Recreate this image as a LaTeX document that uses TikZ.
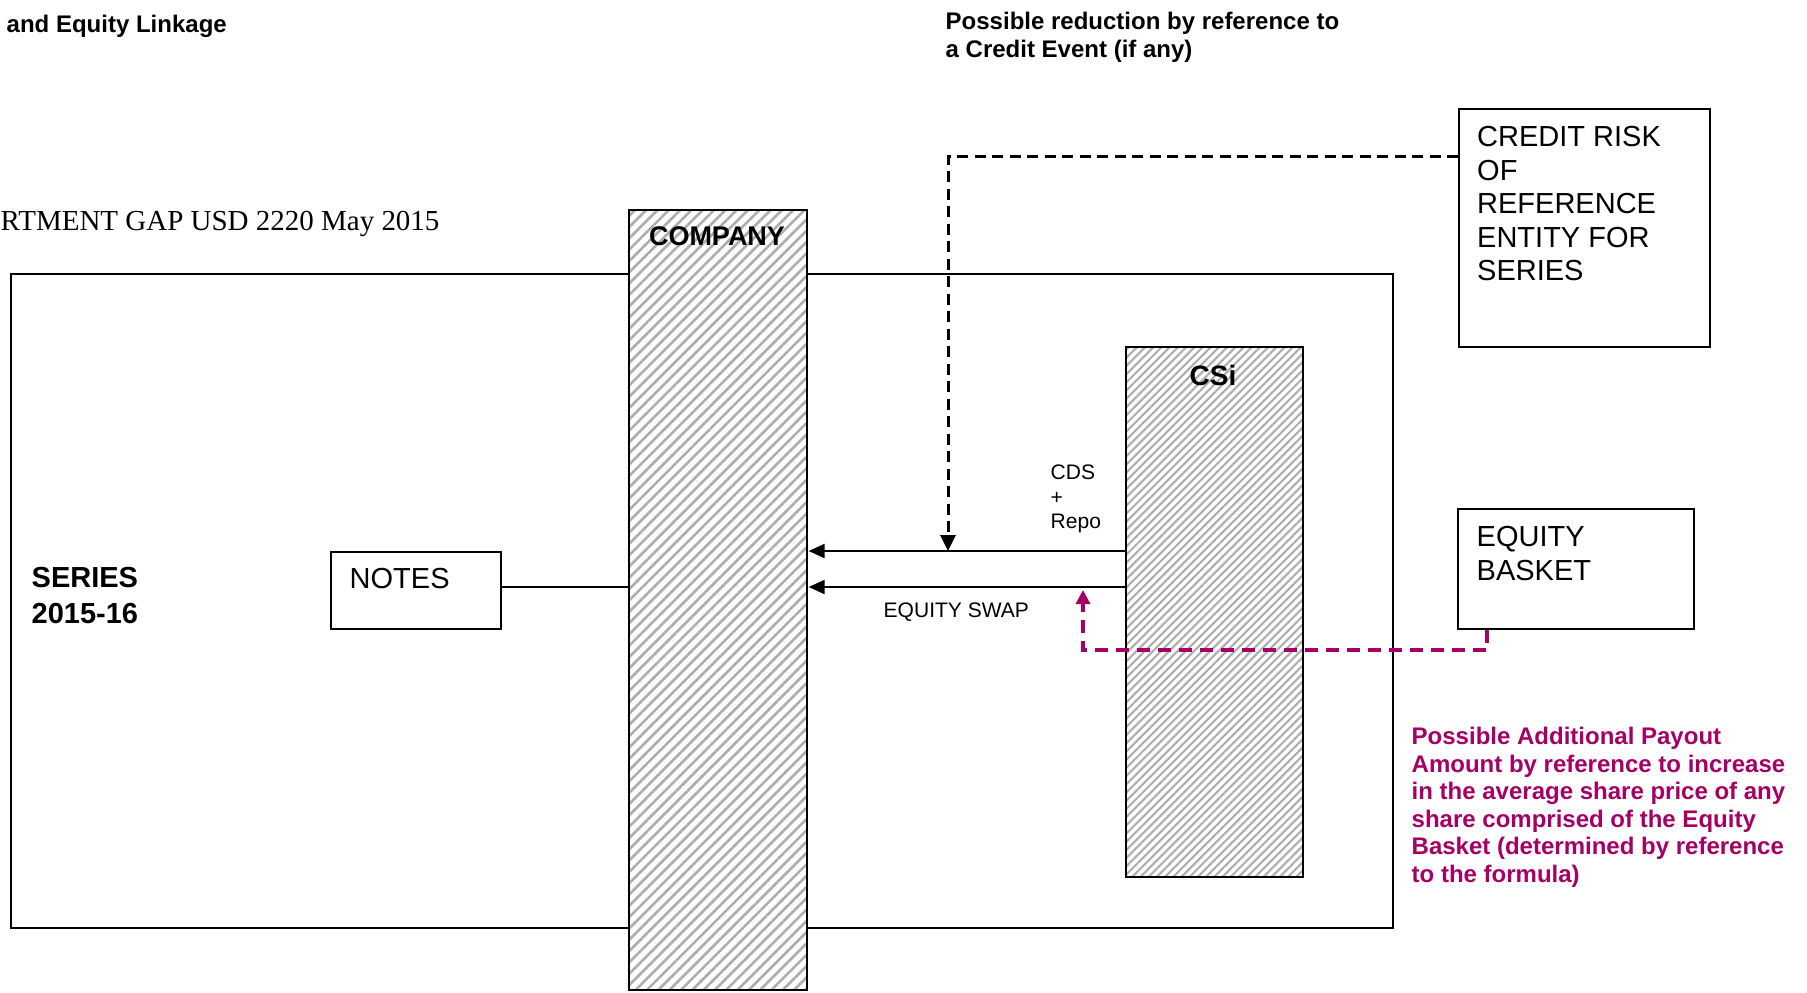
\documentclass[tikz,border=0pt]{standalone}
\usepackage{fontspec}
\setmainfont{Liberation Sans}
\newfontfamily\serifline{Liberation Serif}
\usetikzlibrary{arrows.meta,patterns.meta,positioning,calc}
\definecolor{payout}{RGB}{166,0,100}

\begin{document}
\begin{tikzpicture}[
    box/.style={rectangle, draw, line width=0.02cm, inner sep=0pt, anchor=north west},
    hatchwide/.style={box, preaction={fill=white}, pattern={Lines[angle=45,distance=0.08cm,line width=0.026cm]}, pattern color=black!32},
    hatchnarrow/.style={box, preaction={fill=white}, pattern={Lines[angle=45,distance=0.058cm,line width=0.021cm]}, pattern color=black!32},
    boxtext/.style={inner sep=0pt, anchor=north west, align=left, font=\fontsize{8.25}{9.53}\selectfont},
    heading/.style={inner sep=0pt, align=left, font=\fontsize{6.83}{7.97}\selectfont\bfseries},
    labeltext/.style={inner sep=0pt, align=left, font=\fontsize{5.98}{6.97}\selectfont},
    flow/.style={line width=0.02cm, -{Triangle[length=0.16cm,width=0.14cm]}},
    creditflow/.style={line width=0.03cm, dash pattern=on 0.11cm off 0.065cm, -{Triangle[length=0.16cm,width=0.15cm]}},
    payoutflow/.style={payout, line width=0.033cm, dash pattern=on 0.13cm off 0.08cm, -{Triangle[length=0.14cm,width=0.14cm]}}
]
\useasboundingbox (0,0) rectangle (18.07,-9.92);

% Frame of the series and the boxes
\node[box, minimum width=13.82cm, minimum height=6.54cm] (series) at (0.10,-2.73) {};
\node[hatchwide, minimum width=1.78cm, minimum height=7.80cm] (company) at (6.28,-2.09) {};
\node[hatchnarrow, minimum width=1.77cm, minimum height=5.30cm] (csi) at (11.25,-3.46) {};
\node[box, minimum width=1.70cm, minimum height=0.77cm] (notes) at (3.30,-5.51) {};
\node[box, minimum width=2.51cm, minimum height=2.38cm] (credit) at (14.58,-1.08) {};
\node[box, minimum width=2.36cm, minimum height=1.20cm] (basket) at (14.57,-5.08) {};

% Points where the dashed links end
\coordinate (cds) at (9.48,-5.51);
\coordinate (bend) at (9.48,-1.56);
\coordinate (swap) at (9.48,-5.87);
\coordinate (payin) at (10.83,-5.90);

% Connectors
\draw[flow] (csi.west |- cds) -- (company.east |- cds);
\draw[flow] (csi.west |- swap) -- (company.east |- swap);
\draw[line width=0.02cm] (notes.east |- swap) -- (company.west |- swap);
\draw[creditflow] (credit.west |- bend) -| (cds);
\draw[payoutflow] ([xshift=0.30cm]basket.south west) -- ++(0,-0.20) -| (payin);

% Texts
\node[heading, anchor=base west] (title) at (0.06,-0.32) {and Equity Linkage};
\node[heading, anchor=north west] (reduction) at (9.45,-0.113) {Possible reduction by reference to\\a Credit Event (if any)};
\node[anchor=base west, inner sep=0pt, font=\serifline\fontsize{8.25}{9.5}\selectfont] (gap) at (0,-2.30) {RTMENT GAP USD 2220 May 2015};
\node[anchor=base, inner sep=0pt, font=\fontsize{7.68}{9}\selectfont\bfseries] (companytext) at (7.17,-2.457) {COMPANY};
\node[anchor=base, inner sep=0pt, font=\fontsize{7.97}{9}\selectfont\bfseries] (csitext) at (12.13,-3.85) {CSi};
\node[boxtext, font=\fontsize{8.25}{10.24}\selectfont\bfseries] (seriestext) at (0.31,-5.667) {SERIES\\2015-16};
\node[boxtext, anchor=base west] (notestext) at (3.49,-5.885) {NOTES};
\node[boxtext] (credittext) at (14.765,-1.257) {CREDIT RISK\\OF\\REFERENCE\\ENTITY FOR\\SERIES};
\node[boxtext] (baskettext) at (14.76,-5.257) {EQUITY\\BASKET};
\node[labeltext, anchor=north west] (cdstext) at (10.50,-4.645) {CDS\\+\\Repo};
\node[labeltext, anchor=base west] (swaptext) at (8.83,-6.175) {EQUITY SWAP};
\node[heading, anchor=north west, text=payout, font=\fontsize{6.83}{7.85}\selectfont\bfseries] (payouttext) at (14.11,-7.264) {Possible Additional Payout\\Amount by reference to increase\\in the average share price of any\\share comprised of the Equity\\Basket (determined by reference\\to the formula)};

\end{tikzpicture}
\end{document}
